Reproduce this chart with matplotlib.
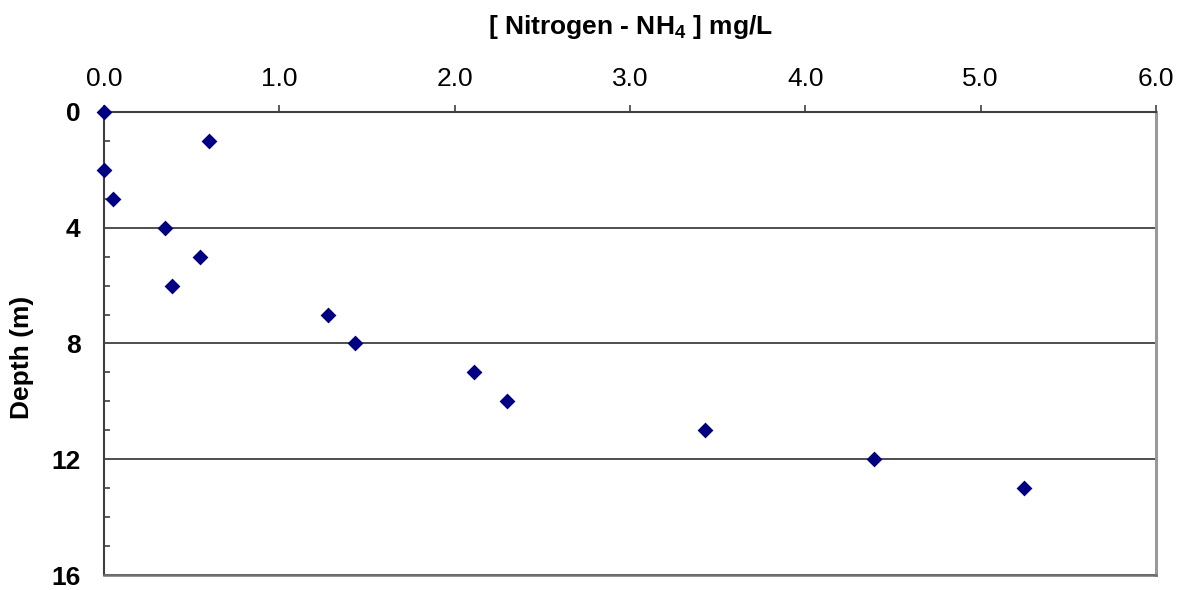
import matplotlib.pyplot as plt
from matplotlib.ticker import MultipleLocator

plt.rcParams["font.family"] = ["Liberation Sans", "DejaVu Sans"]
plt.rcParams["mathtext.fontset"] = "custom"
plt.rcParams["mathtext.rm"] = "Liberation Sans"
plt.rcParams["mathtext.bf"] = "Liberation Sans:bold"

# measured profile
depth_m = [0, 1, 2, 3, 4, 5, 6, 7, 8, 9, 10, 11, 12, 13]
nh4_mgL = [0.0, 0.60, 0.0, 0.05, 0.35, 0.55, 0.39, 1.28, 1.43, 2.11, 2.30, 3.43, 4.39, 5.25]
x_ticks = [0.0, 1.0, 2.0, 3.0, 4.0, 5.0, 6.0]
y_ticks = [0, 4, 8, 12, 16]

fig = plt.figure(figsize=(11.85, 5.9), dpi=100)
ax = fig.add_axes([0.0878, 0.0254, 0.8877, 0.7848])

ax.scatter(nh4_mgL, depth_m, marker="D", s=65, color="#000080", zorder=3,
           clip_on=False, linewidths=0)

ax.set_xlim(0, 6)
ax.set_ylim(16, 0)
ax.xaxis.tick_top()
ax.xaxis.set_label_position("top")
ax.set_xticks(x_ticks)
ax.set_xticklabels([f"{v:.1f}" for v in x_ticks], fontsize=19)
ax.set_yticks(y_ticks)
ax.set_yticklabels([str(v) for v in y_ticks], fontsize=19, fontweight="bold")
ax.yaxis.set_minor_locator(MultipleLocator(1))

ax.tick_params(axis="x", direction="out", length=5, width=1.2, color="#404040", pad=10)
ax.tick_params(axis="y", which="major", direction="in", length=0, pad=17)
ax.tick_params(axis="y", which="minor", direction="in", length=4, width=1.2,
               color="#404040")

ax.yaxis.grid(True, color="#404040", lw=1.3)
ax.set_axisbelow(True)

ax.spines["top"].set_color("#404040")
ax.spines["top"].set_linewidth(1.5)
ax.spines["left"].set_color("#404040")
ax.spines["left"].set_linewidth(1.5)
ax.spines["bottom"].set_color("#707070")
ax.spines["bottom"].set_linewidth(1.8)
ax.spines["right"].set_color("#999999")
ax.spines["right"].set_linewidth(2.2)

ax.set_xlabel(r"[ Nitrogen - NH$_\mathbf{4}$ ] mg/L", fontsize=19,
              fontweight="bold", labelpad=24)
ax.set_ylabel("Depth (m)", fontsize=19, fontweight="bold")
ax.yaxis.set_label_coords(-0.067, 0.47)

fig.savefig("out.png", dpi=100)
